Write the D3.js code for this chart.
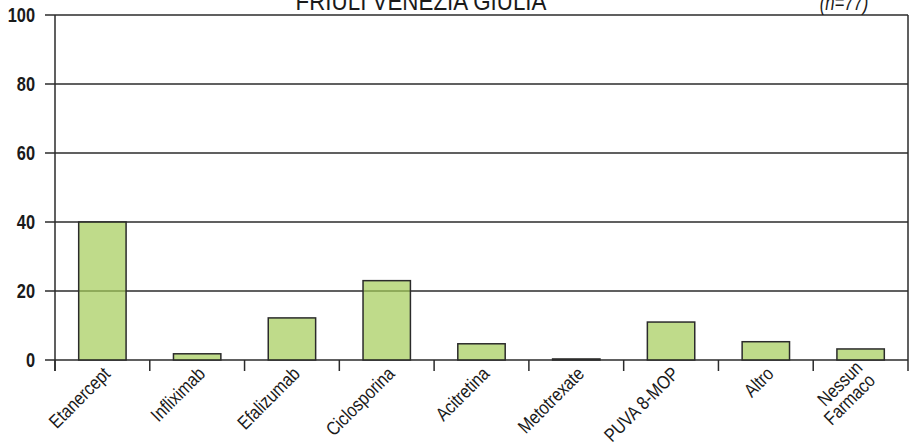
<!DOCTYPE html>
<html>
<head>
<meta charset="utf-8">
<script src="https://cdn.jsdelivr.net/npm/d3@7"></script>
<style>
  body { margin: 0; background: #fff; }
  svg { display: block; font-family: 'Liberation Sans', Arial, sans-serif; }
  .ytick { font-weight: bold; font-size: 20px; fill: #1a1a1a; }
  .xlabel { font-size: 19px; fill: #1a1a1a; }
</style>
</head>
<body>
<div id="chart"></div>
<script>
const categories = ['Etanercept', 'Infliximab', 'Efalizumab', 'Ciclosporina', 'Acitretina',
  'Metotrexate', 'PUVA 8-MOP', 'Altro', 'Nessun Farmaco']
const values = [40, 1.8, 12.2, 23, 4.7, 0.3, 11, 5.3, 3.2]
const yTicks = [0, 20, 40, 60, 80, 100]
const title = 'FRIULI VENEZIA GIULIA'
const subtitle = '(n=77)'

const width = 909
const height = 447
const margin = { top: 15, right: 1, bottom: 87, left: 55 }

// the source uses a condensed face, squeeze a regular one instead
const squeeze = 0.84

const svg = d3.select('#chart').append('svg')
  .attr('width', width)
  .attr('height', height)

const x = d3.scaleBand()
  .domain(categories)
  .range([margin.left, width - margin.right])
  .paddingInner(0.5)
  .paddingOuter(0.25)

const y = d3.scaleLinear()
  .domain([0, 100])
  .range([height - margin.bottom, margin.top])

const ink = '#2b2b2b'

// gridlines (under the bars, the bars are a bit see-through)
svg.append('g')
  .selectAll('line')
  .data(yTicks)
  .join('line')
  .attr('x1', margin.left - 10)
  .attr('x2', width - margin.right)
  .attr('y1', (d) => y(d))
  .attr('y2', (d) => y(d))
  .attr('stroke', ink)
  .attr('stroke-width', 1.5)

// right border
svg.append('line')
  .attr('x1', width - margin.right)
  .attr('x2', width - margin.right)
  .attr('y1', y(100))
  .attr('y2', y(0))
  .attr('stroke', ink)
  .attr('stroke-width', 1.5)

// y axis line
svg.append('line')
  .attr('x1', margin.left)
  .attr('x2', margin.left)
  .attr('y1', y(100))
  .attr('y2', y(0) + 11)
  .attr('stroke', ink)
  .attr('stroke-width', 1.5)

// x ticks at band boundaries
const step = x.step()
const x0 = margin.left
svg.append('g')
  .selectAll('line')
  .data(d3.range(categories.length + 1))
  .join('line')
  .attr('x1', (i) => x0 + i * step)
  .attr('x2', (i) => x0 + i * step)
  .attr('y1', y(0))
  .attr('y2', y(0) + 11)
  .attr('stroke', ink)
  .attr('stroke-width', 1.5)

// bars
svg.append('g')
  .selectAll('rect')
  .data(categories)
  .join('rect')
  .attr('x', (d) => x(d))
  .attr('width', x.bandwidth())
  .attr('y', (d, i) => y(values[i]))
  .attr('height', (d, i) => y(0) - y(values[i]))
  .attr('fill', 'rgb(164,204,89)')
  .attr('fill-opacity', 0.7)
  .attr('stroke', ink)
  .attr('stroke-width', 1.5)

// y tick labels
svg.append('g')
  .selectAll('text')
  .data(yTicks)
  .join('text')
  .attr('class', 'ytick')
  .attr('text-anchor', 'end')
  .attr('dy', '0.36em')
  .attr('transform', (d) => `translate(35, ${y(d)}) scale(0.82, 1)`)
  .text((d) => d)

// rotated category labels
const labels = svg.append('g')
  .selectAll('text')
  .data(categories)
  .join('text')
  .attr('class', 'xlabel')
  .attr('text-anchor', 'end')
  .attr('transform', (d) => `translate(${x(d) + x.bandwidth() / 2 + 9}, ${y(0) + 15}) rotate(-45) scale(${squeeze}, 1)`)

labels.each(function (d) {
  const sel = d3.select(this)
  const parts = d === 'Nessun Farmaco' ? ['Nessun', 'Farmaco'] : [d]
  parts.forEach((p, i) => {
    sel.append('tspan')
      .attr('x', 0)
      .attr('dy', i === 0 ? (parts.length > 1 ? '-0.45em' : 0) : '0.95em')
      .text(p)
  })
})

// title, partly cut off by the top edge as in the source
svg.append('text')
  .attr('text-anchor', 'middle')
  .attr('font-size', 26)
  .attr('fill', '#1a1a1a')
  .attr('transform', 'translate(421, 10) scale(0.86, 1)')
  .text(title)

svg.append('text')
  .attr('text-anchor', 'middle')
  .attr('font-size', 22)
  .attr('font-style', 'italic')
  .attr('fill', '#1a1a1a')
  .attr('transform', 'translate(844, 10) scale(0.76, 1)')
  .text(subtitle)
</script>
</body>
</html>
